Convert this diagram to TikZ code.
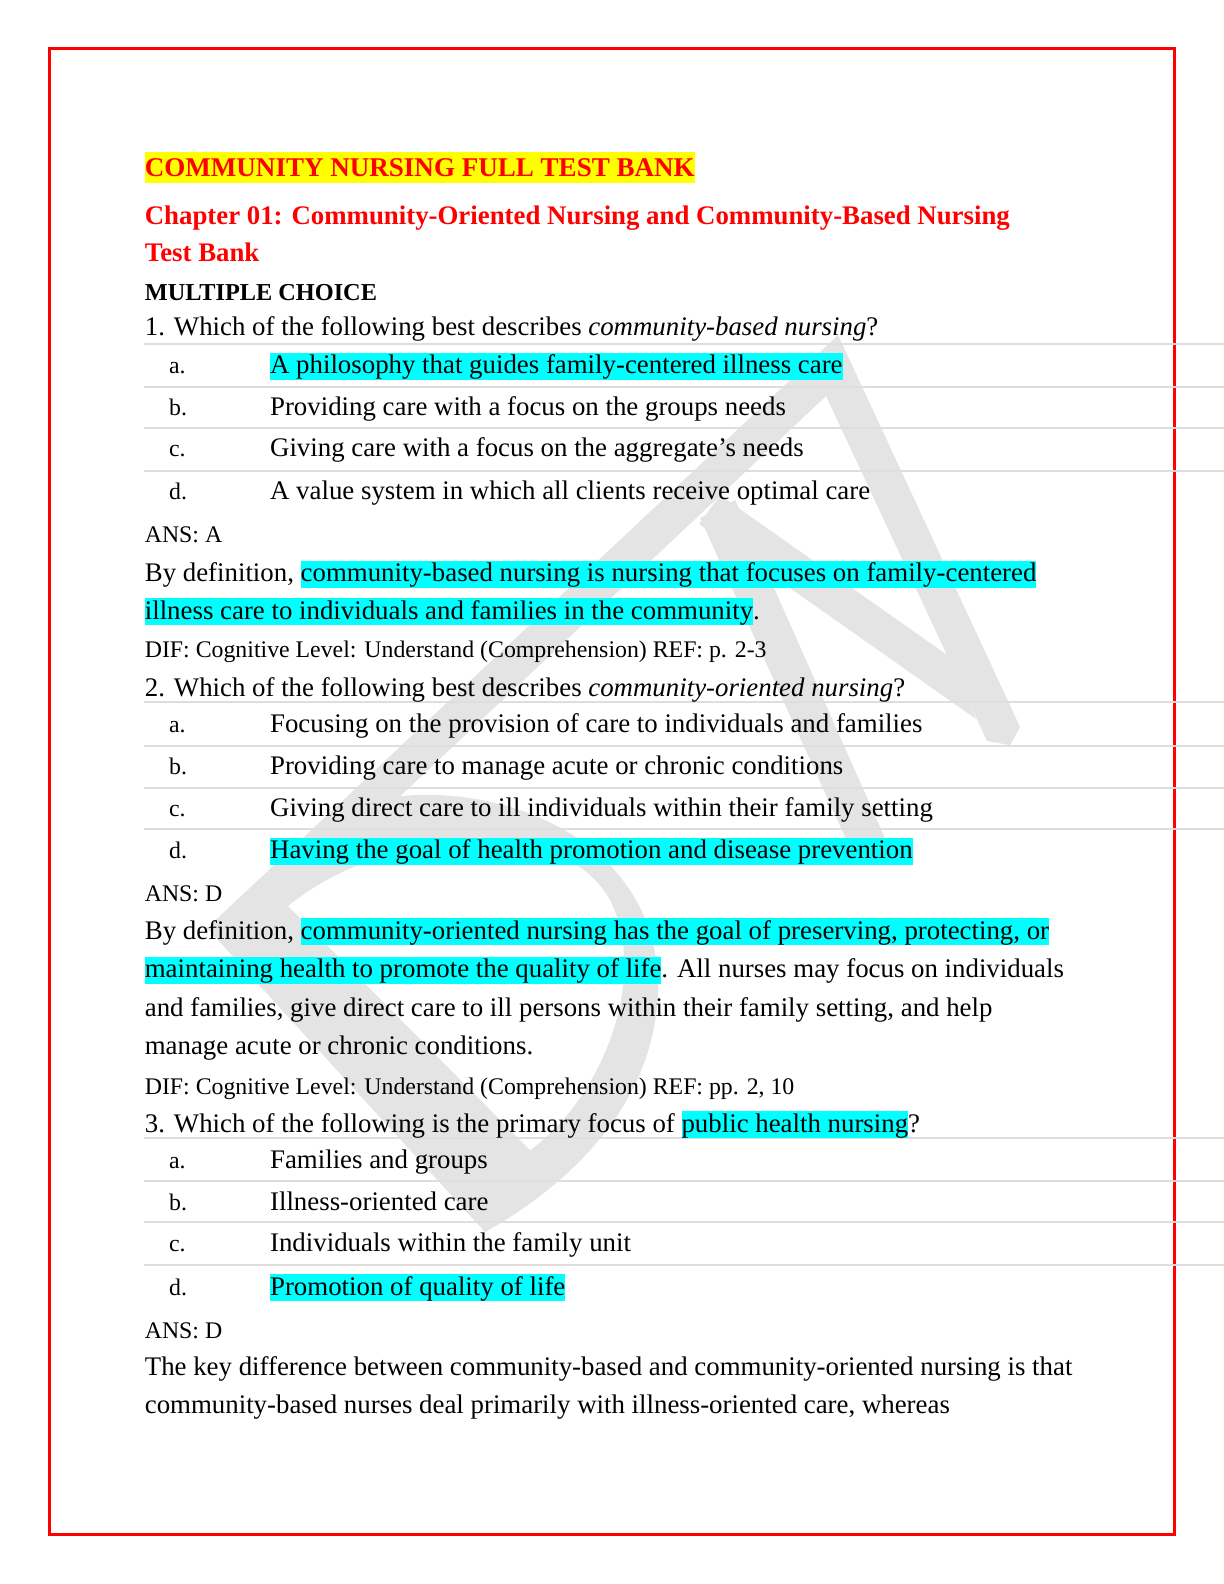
\documentclass[tikz,border=0pt]{standalone}
\usepackage{fontspec}
\setmainfont{Liberation Serif}
\definecolor{hlcyan}{RGB}{0,255,255}
\definecolor{hlyellow}{RGB}{255,255,0}
\definecolor{pagered}{RGB}{255,0,0}
\definecolor{rulegray}{RGB}{222,222,222}
\definecolor{wmgray}{RGB}{228,228,228}
\newcommand{\hl}[1]{{\setlength{\fboxsep}{0pt}\colorbox{hlcyan}{\rule[-3pt]{0pt}{13.6pt}#1}}}
\newcommand{\hly}[1]{{\setlength{\fboxsep}{0pt}\colorbox{hlyellow}{\rule[-3pt]{0pt}{15.6pt}#1}}}
\tikzset{
  body/.style={anchor=base west, inner sep=0pt, font=\fontsize{13.47}{15}\selectfont},
  small/.style={anchor=base west, inner sep=0pt, font=\fontsize{11.95}{14}\selectfont},
  head/.style={anchor=base west, inner sep=0pt, text=pagered, font=\fontsize{13.46}{16}\selectfont\bfseries},
  sepline/.style={draw=rulegray, line width=1},
  wmark/.style={fill=wmgray}
}
\begin{document}
\begin{tikzpicture}[x=0.50505bp,y=0.50505bp,yscale=-1,xscale=1]
\useasboundingbox (0,0) rectangle (1211.6,1568);
% watermark
\begin{scope}[scale=0.99]
\fill [wmark] (207,928) -- (838,335) -- (1020,727) -- (1010,745) -- (987,741) -- (826,396) -- (232,954) -- cycle;
\fill [wmark] (720,495) -- (950,657) -- (976,719) -- (699,524) -- cycle;
\fill [wmark] (700,518) -- (735,500) -- (884,836) -- (880,856) -- (851,850) -- cycle;
\fill [wmark, even odd rule] (207,928) -- (400,796) .. controls (520,785) and (660,850) .. (658,990) .. controls (655,1110) and (560,1190) .. (485,1232) -- cycle
  (288,906) .. controls (380,830) and (560,810) .. (610,900) .. controls (650,980) and (600,1100) .. (530,1150) -- cycle;
\end{scope}
% page frame
\draw [color=pagered, line width=1.5] (49,48) rectangle (1163,1519);
% rules under questions and options
\draw [sepline] (143,341) -- (1212,341);
\draw [sepline] (143,383) -- (1212,383);
\draw [sepline] (143,424) -- (1212,424);
\draw [sepline] (143,466) -- (1212,466);
\draw [sepline] (143,695) -- (1212,695);
\draw [sepline] (143,738) -- (1212,738);
\draw [sepline] (143,780) -- (1212,780);
\draw [sepline] (143,821) -- (1212,821);
\draw [sepline] (143,1126) -- (1212,1126);
\draw [sepline] (143,1169) -- (1212,1169);
\draw [sepline] (143,1210) -- (1212,1210);
\draw [sepline] (143,1252) -- (1212,1252);
% headings
\draw (143,175) node (title) [head, font=\fontsize{13.57}{16}\selectfont\bfseries] {\hly{COMMUNITY NURSING FULL TEST BANK}};
\draw (143,222) node (chap) [head] {Chapter 01: Community-Oriented Nursing and Community-Based Nursing};
\draw (143,259) node (chapb) [head] {Test Bank};
\draw (143,297) node (mc) [body, font=\fontsize{12.2}{14}\selectfont\bfseries] {MULTIPLE CHOICE};
% question 1
\draw (143,332) node (qa) [body] {1. Which of the following best describes \textit{community-based nursing}?};
\draw (167,370) node (qaa) [small] {a.};
\draw (267,370) node (qaat) [body] {\hl{A philosophy that guides family-centered illness care}};
\draw (167,411) node (qab) [small] {b.};
\draw (267,411) node (qabt) [body] {Providing care with a focus on the groups needs};
\draw (167,452) node (qac) [small] {c.};
\draw (267,452) node (qact) [body] {Giving care with a focus on the aggregate’s needs};
\draw (167,494) node (qad) [small] {d.};
\draw (267,494) node (qadt) [body] {A value system in which all clients receive optimal care};
\draw (143,537) node (ansa) [small] {ANS: A};
\draw (143,576) node (rata) [body] {By definition, \hl{community-based nursing is nursing that focuses on family-centered}};
\draw (143,613) node (ratb) [body] {\hl{illness care to individuals and families in the community}.};
\draw (143,651) node (difa) [small] {DIF: Cognitive Level: Understand (Comprehension) REF: p. 2-3};
% question 2
\draw (143,689) node (qb) [body] {2. Which of the following best describes \textit{community-oriented nursing}?};
\draw (167,725) node (qba) [small] {a.};
\draw (267,725) node (qbat) [body] {Focusing on the provision of care to individuals and families};
\draw (167,767) node (qbb) [small] {b.};
\draw (267,767) node (qbbt) [body] {Providing care to manage acute or chronic conditions};
\draw (167,808) node (qbc) [small] {c.};
\draw (267,808) node (qbct) [body] {Giving direct care to ill individuals within their family setting};
\draw (167,850) node (qbd) [small] {d.};
\draw (267,850) node (qbdt) [body] {\hl{Having the goal of health promotion and disease prevention}};
\draw (143,892) node (ansb) [small] {ANS: D};
\draw (143,930) node (ratc) [body] {By definition, \hl{community-oriented nursing has the goal of preserving, protecting, or}};
\draw (143,968) node (ratd) [body] {\hl{maintaining health to promote the quality of life}. All nurses may focus on individuals};
\draw (143,1006) node (rate) [body] {and families, give direct care to ill persons within their family setting, and help};
\draw (143,1044) node (ratf) [body] {manage acute or chronic conditions.};
\draw (143,1083) node (difb) [small] {DIF: Cognitive Level: Understand (Comprehension) REF: pp. 2, 10};
% question 3
\draw (143,1121) node (qc) [body] {3. Which of the following is the primary focus of \hl{public health nursing}?};
\draw (167,1157) node (qca) [small] {a.};
\draw (267,1157) node (qcat) [body] {Families and groups};
\draw (167,1198) node (qcb) [small] {b.};
\draw (267,1198) node (qcbt) [body] {Illness-oriented care};
\draw (167,1239) node (qcc) [small] {c.};
\draw (267,1239) node (qcct) [body] {Individuals within the family unit};
\draw (167,1282) node (qcd) [small] {d.};
\draw (267,1282) node (qcdt) [body] {\hl{Promotion of quality of life}};
\draw (143,1325) node (ansc) [small] {ANS: D};
\draw (143,1362) node (ratg) [body] {The key difference between community-based and community-oriented nursing is that};
\draw (143,1399) node (rath) [body] {community-based nurses deal primarily with illness-oriented care, whereas};
\end{tikzpicture}
\end{document}
